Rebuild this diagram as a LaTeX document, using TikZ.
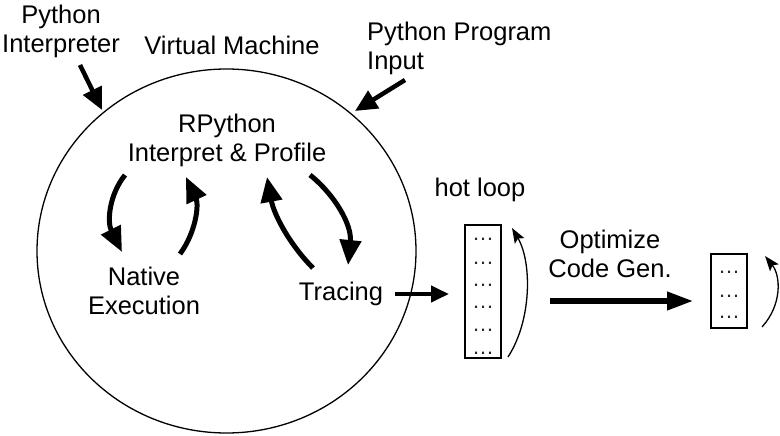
\documentclass[tikz,border=0pt]{standalone}
\usepackage{fontspec}
\setmainfont{Liberation Sans}
\usetikzlibrary{arrows.meta,shapes.geometric}
\begin{document}
\begin{tikzpicture}[x=1pt,y=-1pt,
  lbl/.style={font=\fontsize{25.5}{29}\selectfont, inner sep=0pt, align=center},
  fat/.style={line width=5pt, -{Triangle[length=25pt,width=21pt]}},
  inarrow/.style={line width=4.5pt, -{Triangle[length=22pt,width=20pt]}},
  mid/.style={line width=4pt, -{Triangle[length=18pt,width=16pt]}},
  thin/.style={line width=1.3pt, -{Stealth[length=15pt,width=11pt,inset=3pt]}},
  codebox/.style={draw, line width=1.1pt, minimum width=36pt, inner sep=0pt},
  dotlbl/.style={font=\fontsize{22}{22}\selectfont, anchor=base, inner sep=0pt, text=black!85}]
\useasboundingbox (0,0) rectangle (780,436);

% virtual machine
\node[draw, ellipse, line width=1.3pt, minimum width=379pt, minimum height=364pt, inner sep=0pt] (vmshape) at (226.5,251) {};
\node[lbl] (vm) at (232,45) {Virtual Machine};
\node[lbl] (interp) at (61,31) {Python\\Interpreter};
\node[lbl, align=left, anchor=west] (input) at (367,48) {Python Program\\Input};
\node[lbl] (rpy) at (227,140) {RPython\\Interpret \& Profile};
\node[lbl] (native) at (144,291) {Native\\Execution};
\node[lbl] (tracing) at (341,294) {Tracing};
\node[lbl] (hot) at (480,190) {hot loop};
\node[lbl] (opt) at (610,254) {Optimize\\Code Gen.};

% code boxes
\node[codebox, minimum height=133pt] (box1) at (483,291.5) {};
\foreach \yy [count=\i] in {239,263,285,307,330,353}
  \node[dotlbl] (d1\i) at (483,\yy+1) {…};
\node[codebox, minimum height=74pt] (box2) at (729,291) {};
\foreach \yy [count=\i] in {272,296,317}
  \node[dotlbl] (d2\i) at (729,\yy+1) {…};

% coordinates
\coordinate (ia) at (80,65);   \coordinate (ib) at (102,110);
\coordinate (pa) at (405,80);  \coordinate (pb) at (355,111);
\coordinate (n1a) at (125,175); \coordinate (n1b) at (122,252);
\coordinate (n2a) at (180,254); \coordinate (n2b) at (186,177);
\coordinate (t1a) at (313,268); \coordinate (t1b) at (267,177);
\coordinate (t2a) at (310,175); \coordinate (t2b) at (348,265);
\coordinate (tra) at (395,294); \coordinate (trb) at (449,294);
\coordinate (oa) at (550,301);  \coordinate (ob) at (694,301);
\coordinate (h1a) at (508,357); \coordinate (h1b) at (512,228);
\coordinate (h2a) at (762,327); \coordinate (h2b) at (765,256);

% arrows
\draw[inarrow] (ia) -- (ib);
\draw[inarrow] (pa) -- (pb);
\draw[fat] (n1a) .. controls (109,195) and (107,222) .. (n1b);
\draw[fat] (n2a) .. controls (196,232) and (199,205) .. (n2b);
\draw[fat] (t1a) .. controls (290,245) and (274,215) .. (t1b);
\draw[fat] (t2a) .. controls (335,195) and (352,225) .. (t2b);
\draw[mid] (tra) -- (trb);
\draw[line width=6.5pt, -{Triangle[length=27pt,width=17pt]}] (oa) -- (ob);
\draw[thin] (h1a) .. controls (532,320) and (532,262) .. (h1b);
\draw[thin] (h2a) .. controls (782,305) and (781,276) .. (h2b);
\end{tikzpicture}
\end{document}
